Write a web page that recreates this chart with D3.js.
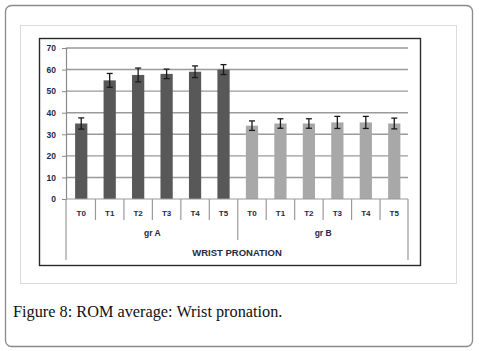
<!DOCTYPE html>
<html>
<head>
<meta charset="utf-8">
<script src="https://cdn.jsdelivr.net/npm/d3@7"></script>
<style>
  body { margin: 0; background: #fff; }
  svg { display: block; }
</style>
</head>
<body>
<div id="chart"></div>
<script>
// data
const groups = ["gr A", "gr B"];
const times = ["T0", "T1", "T2", "T3", "T4", "T5"];
const grA = [35, 55, 57.5, 58, 59, 60];
const grAErr = [2.6, 3.2, 3.2, 2.2, 2.7, 2.3];
const grB = [34, 35, 35, 35.5, 35.5, 35];
const grBErr = [2.2, 2.2, 2.2, 2.8, 2.8, 2.5];
const yTicks = [0, 10, 20, 30, 40, 50, 60, 70];
const axisTitle = "WRIST PRONATION";
const caption = "Figure 8: ROM average: Wrist pronation.";

const width = 479, height = 351;

const svg = d3.select("#chart").append("svg")
    .attr("width", width)
    .attr("height", height);

// outer rounded frame
svg.append("rect")
    .attr("x", 5.5).attr("y", 5.5)
    .attr("width", 467).attr("height", 341)
    .attr("rx", 6)
    .attr("fill", "#fff")
    .attr("stroke", "#8a8a8a")
    .attr("stroke-width", 1.3);

// light inner box
svg.append("rect")
    .attr("x", 20.5).attr("y", 25.5)
    .attr("width", 436).attr("height", 258)
    .attr("fill", "#fff")
    .attr("stroke", "#dcdcdc")
    .attr("stroke-width", 1);

// chart frame
svg.append("rect")
    .attr("x", 39.5).attr("y", 38.5)
    .attr("width", 381).attr("height", 227)
    .attr("fill", "#fff")
    .attr("stroke", "#2a2a2a")
    .attr("stroke-width", 1.4);

// flat list of bars
const rows = [];
groups.forEach((g, gi) => {
    const vals = gi === 0 ? grA : grB;
    const errs = gi === 0 ? grAErr : grBErr;
    times.forEach((t, i) => {
        rows.push({ key: g + "|" + t, group: g, time: t, value: vals[i], err: errs[i], gi: gi });
    });
});

const x = d3.scaleBand()
    .domain(rows.map(d => d.key))
    .range([67, 408.5])
    .paddingInner(0.57)
    .paddingOuter(0.285);

const y = d3.scaleLinear()
    .domain([0, 70])
    .range([199, 48]);

const left = 66, right = 408;
const labelFont = "'Liberation Sans', Arial, sans-serif";
const labelColor = "#1e2a48";

// gridlines
svg.append("g")
    .selectAll("line")
    .data(yTicks.filter(d => d > 0))
    .join("line")
    .attr("x1", left).attr("x2", right)
    .attr("y1", d => y(d)).attr("y2", d => y(d))
    .attr("stroke", "#9a9a9a")
    .attr("stroke-width", 1.4);

// y axis
const yAxis = svg.append("g")
    .attr("transform", `translate(${left},0)`)
    .call(d3.axisLeft(y).tickValues(yTicks).tickSize(4).tickPadding(6));
yAxis.select(".domain").attr("stroke", "#8a8a8a").attr("stroke-width", 1.2);
yAxis.selectAll(".tick line").attr("stroke", "#8a8a8a");
yAxis.selectAll("text")
    .attr("fill", labelColor)
    .style("font-family", labelFont)
    .style("font-weight", "bold")
    .style("font-size", "8.5px");

// bars
svg.append("g")
    .selectAll("rect")
    .data(rows)
    .join("rect")
    .attr("x", d => x(d.key))
    .attr("y", d => y(d.value))
    .attr("width", x.bandwidth())
    .attr("height", d => y(0) - y(d.value))
    .attr("fill", d => d.gi === 0 ? "#585858" : "#a8a8a8");

// error bars
const eb = svg.append("g")
    .attr("stroke", "#1a1a1a")
    .attr("stroke-width", 1.3);
rows.forEach(d => {
    const cx = x(d.key) + x.bandwidth() / 2;
    eb.append("line")
        .attr("x1", cx).attr("x2", cx)
        .attr("y1", y(d.value + d.err)).attr("y2", y(d.value - d.err));
    [d.value + d.err, d.value - d.err].forEach(v => {
        eb.append("line")
            .attr("x1", cx - 3).attr("x2", cx + 3)
            .attr("y1", y(v)).attr("y2", y(v));
    });
});

// category axis: baseline + dividers
const axisG = svg.append("g")
    .attr("stroke", "#9a9a9a")
    .attr("stroke-width", 1.2);
axisG.append("line")
    .attr("x1", left).attr("x2", right)
    .attr("y1", y(0)).attr("y2", y(0));

rows.forEach((d, i) => {
    if (i === 0) return;
    const bx = x(d.key) - (x.step() - x.bandwidth()) / 2;
    const isGroupEdge = i % times.length === 0;
    axisG.append("line")
        .attr("x1", bx).attr("x2", bx)
        .attr("y1", y(0)).attr("y2", isGroupEdge ? 240 : 220);
});
[left, right].forEach(xx => {
    axisG.append("line")
        .attr("x1", xx).attr("x2", xx)
        .attr("y1", y(0)).attr("y2", 260);
});

// time labels
svg.append("g")
    .selectAll("text")
    .data(rows)
    .join("text")
    .attr("x", d => x(d.key) + x.bandwidth() / 2)
    .attr("y", 216)
    .attr("text-anchor", "middle")
    .attr("fill", labelColor)
    .style("font-family", labelFont)
    .style("font-weight", "bold")
    .style("font-size", "8px")
    .text(d => d.time);

// group labels
svg.append("g")
    .selectAll("text")
    .data(groups)
    .join("text")
    .attr("x", g => {
        const first = x(g + "|" + times[0]);
        const last = x(g + "|" + times[times.length - 1]) + x.bandwidth();
        return (first + last) / 2;
    })
    .attr("y", 236)
    .attr("text-anchor", "middle")
    .attr("fill", labelColor)
    .style("font-family", labelFont)
    .style("font-weight", "bold")
    .style("font-size", "8.5px")
    .text(d => d);

// axis title
svg.append("text")
    .attr("x", (left + right) / 2)
    .attr("y", 255.5)
    .attr("text-anchor", "middle")
    .attr("fill", labelColor)
    .style("font-family", labelFont)
    .style("font-weight", "bold")
    .style("font-size", "9.5px")
    .text(axisTitle);

// caption
svg.append("text")
    .attr("x", 13)
    .attr("y", 317)
    .attr("fill", "#111")
    .style("font-family", "'Liberation Serif', 'Times New Roman', serif")
    .style("font-size", "16.3px")
    .text(caption);
</script>
</body>
</html>
